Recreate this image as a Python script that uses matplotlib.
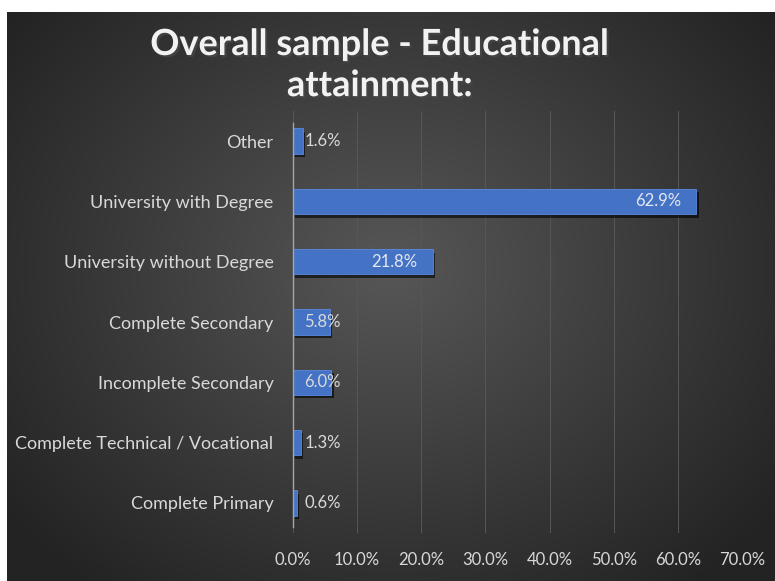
import matplotlib
import numpy as np

matplotlib.use("Agg")
import matplotlib.pyplot as plt
import matplotlib.patheffects as pe

categories = [
    "Other",
    "University with Degree",
    "University without Degree",
    "Complete Secondary",
    "Incomplete Secondary",
    "Complete Technical / Vocational",
    "Complete Primary",
]
shares = [1.6, 62.9, 21.8, 5.8, 6.0, 1.3, 0.6]
x_ticks = [0, 10, 20, 30, 40, 50, 60, 70]

TEXT = "#d9d9d9"
BAR = "#4472c4"
plt.rcParams["font.family"] = ["Lato", "DejaVu Sans"]

fig = plt.figure(figsize=(7.75, 5.81), dpi=100)
fig.patch.set_facecolor("white")

# dark radial-gradient chart area, leaving a thin white margin top and left
bg = fig.add_axes([7 / 775, 0, 1 - 7 / 775, 1 - 12 / 581])
bg.set_axis_off()
gy, gx = np.mgrid[0:1:300j, 0:1:400j]
dist = np.sqrt(((gx - 0.5) / 0.75) ** 2 + ((gy - 0.45) / 0.85) ** 2)
shade = np.clip(0.34 - 0.24 * dist, 0.14, 0.34)
bg.imshow(np.dstack([shade] * 3), aspect="auto", extent=[0, 1, 0, 1])

ax = fig.add_axes([293 / 775, 1 - 533 / 581, 449 / 775, 422 / 581])
ax.set_facecolor("none")

y_pos = np.arange(len(categories))
bars = ax.barh(y_pos, shares, height=0.42, color=BAR, edgecolor="#5b8ae0",
               linewidth=0.6, zorder=3)
for b in bars:
    b.set_path_effects([pe.SimplePatchShadow(offset=(1.5, -2.5), shadow_rgbFace="black",
                                             alpha=0.6), pe.Normal()])

for y, v in zip(y_pos, shares):
    if v >= 10:
        ax.annotate(f"{v:.1f}%", xy=(v, y), xytext=(-11, 0), textcoords="offset points",
                    ha="right", va="center", color="#e4e8f0", fontsize=12, zorder=4)
    else:
        ax.annotate(f"{v:.1f}%", xy=(0, y), xytext=(8, 0), textcoords="offset points",
                    ha="left", va="center", color=TEXT, fontsize=12, zorder=4)

ax.set_xlim(0, 70)
ax.set_ylim(len(categories) - 0.5, -0.5)
ax.set_yticks(y_pos)
ax.set_yticklabels(categories)
ax.set_xticks(x_ticks)
ax.set_xticklabels([f"{t:.1f}%" for t in x_ticks])
ax.tick_params(axis="both", length=0, colors=TEXT, labelsize=12)
ax.tick_params(axis="y", labelsize=13, pad=14)
ax.tick_params(axis="x", pad=14)
ax.grid(axis="x", color="#575757", linewidth=0.7, zorder=0)
for side in ["top", "right", "bottom"]:
    ax.spines[side].set_visible(False)
ax.spines["left"].set_color("#a6a6a6")
ax.spines["left"].set_linewidth(1.0)
ax.spines["left"].set_zorder(5)
ax.spines["left"].set_bounds(len(categories) - 0.6, -0.3)

fig.text(0.49, 0.888, "Overall sample - Educational\nattainment:", ha="center", va="center",
         color="#f2f2f2", fontsize=26, fontweight="bold", linespacing=1.3,
         path_effects=[pe.withSimplePatchShadow(offset=(1.5, -1.5), alpha=0.7)])

fig.savefig("out.png", dpi=100, facecolor=fig.get_facecolor())
